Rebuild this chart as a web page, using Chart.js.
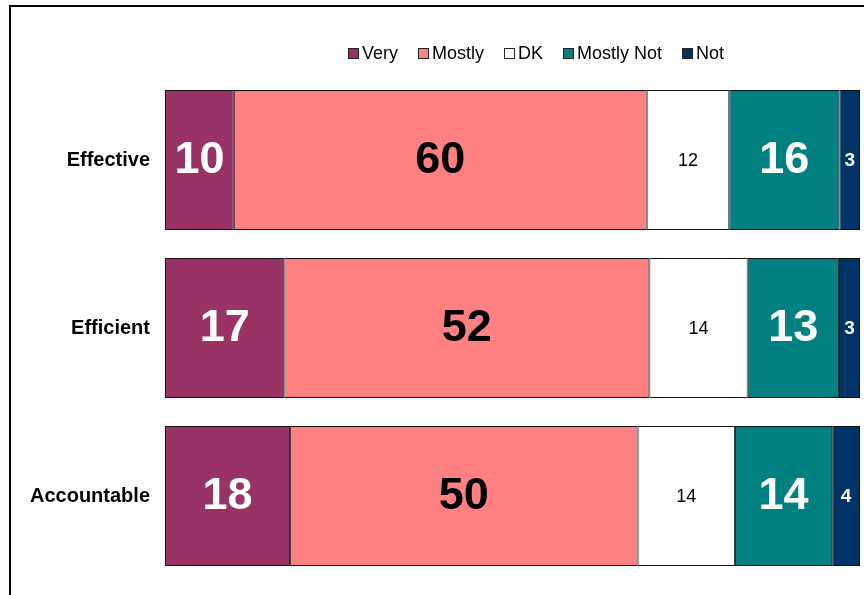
<!DOCTYPE html>
<html>
<head>
<meta charset="utf-8">
<script src="https://cdn.jsdelivr.net/npm/chart.js@4/dist/chart.umd.min.js"></script>
<style>
  html, body { margin: 0; padding: 0; background: #fff; overflow: hidden; }
  #wrap { position: relative; width: 864px; height: 595px; }
  #frame { position: absolute; left: 9px; top: 5px; width: 900px; height: 700px; border: 2px solid #000; box-sizing: border-box; pointer-events: none; }
  canvas { position: absolute; left: 0; top: 0; }
</style>
</head>
<body>
<div id="wrap">
  <canvas id="chart" width="864" height="595"></canvas>
  <div id="frame"></div>
</div>
<script>
// Datos
const categories = ['Effective', 'Efficient', 'Accountable'];
const seriesNames = ['Very', 'Mostly', 'DK', 'Mostly Not', 'Not'];
const very = [10, 17, 18];
const mostly = [60, 52, 50];
const dk = [12, 14, 14];
const mostlyNot = [16, 13, 14];
const notAt = [3, 3, 4];

const raw = [very, mostly, dk, mostlyNot, notAt];
const colors = ['#993366', '#FF8080', '#FFFFFF', '#008080', '#003366'];
const FONT = '"Liberation Sans", Arial, sans-serif';

// estilo de etiqueta por serie
const labelStyle = [
    { font: 'bold 45px ' + FONT, color: '#fff' },
    { font: 'bold 45px ' + FONT, color: '#000' },
    { font: '18px ' + FONT, color: '#000' },
    { font: 'bold 45px ' + FONT, color: '#fff' },
    { font: 'bold 19px ' + FONT, color: '#fff' }
];

// cada barra ocupa el 100% (los totales no siempre suman 100)
const totals = categories.map((_, i) => raw.reduce((s, arr) => s + arr[i], 0));
const pct = raw.map(arr => arr.map((v, i) => v / totals[i] * 100));

const barLabels = {
    id: 'barLabels',
    afterDatasetsDraw(chart) {
        const c = chart.ctx;
        c.save();
        c.textAlign = 'center';
        c.textBaseline = 'middle';
        chart.data.datasets.forEach((ds, di) => {
            const meta = chart.getDatasetMeta(di);
            c.font = labelStyle[di].font;
            c.fillStyle = labelStyle[di].color;
            meta.data.forEach((el, i) => {
                const x = (el.x + el.base) / 2;
                c.fillText(String(raw[di][i]), x, el.y + 1);
            });
        });
        c.restore();
    }
};

// leyenda propia: cuadro pegado al texto como en el original
const topLegend = {
    id: 'topLegend',
    afterDraw(chart) {
        const c = chart.ctx;
        c.save();
        c.font = '18px ' + FONT;
        c.textBaseline = 'middle';
        let x = 348;
        const y = 54;
        chart.data.datasets.forEach((ds) => {
            c.fillStyle = ds.backgroundColor;
            c.fillRect(x, y - 6, 11, 11);
            c.strokeStyle = '#222';
            c.lineWidth = 1;
            c.strokeRect(x + 0.5, y - 5.5, 10, 10);
            c.fillStyle = '#000';
            c.fillText(ds.label, x + 14, y);
            x += 14 + c.measureText(ds.label).width + 20;
        });
        c.restore();
    }
};

new Chart(document.getElementById('chart'), {
    type: 'bar',
    data: {
        labels: categories,
        datasets: seriesNames.map((name, i) => ({
            label: name,
            data: pct[i],
            backgroundColor: colors[i],
            borderColor: '#111',
            borderWidth: 1,
            borderSkipped: false,
            barPercentage: 0.833,
            categoryPercentage: 1
        }))
    },
    options: {
        indexAxis: 'y',
        responsive: false,
        animation: false,
        layout: { padding: { top: 76, right: 4, bottom: 15, left: 0 } },
        plugins: {
            legend: { display: false },
            tooltip: { enabled: false }
        },
        scales: {
            x: { stacked: true, min: 0, max: 100, display: false },
            y: {
                stacked: true,
                grid: { display: false, drawTicks: false },
                border: { display: false },
                ticks: { color: '#000', font: { family: FONT, size: 20, weight: 'bold' }, padding: 15 },
                afterFit: (scale) => {
                    scale.width = 165;
                    // sin relleno extra arriba/abajo por las etiquetas
                    scale.paddingTop = 0;
                    scale.paddingBottom = 0;
                }
            }
        }
    },
    plugins: [barLabels, topLegend]
});
</script>
</body>
</html>
